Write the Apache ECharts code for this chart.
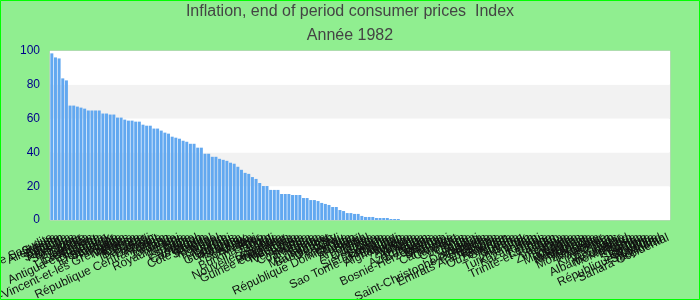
<!DOCTYPE html>
<html>
<head>
<meta charset="utf-8">
<script src="https://cdn.jsdelivr.net/npm/echarts@6/dist/echarts.min.js"></script>
<style>
html,body{margin:0;padding:0;background:#90ee90;}
#chart{width:700px;height:300px;}
</style>
</head>
<body>
<div id="chart"></div>
<script>
const titleText = "Inflation, end of period consumer prices  Index";
const subtitleText = "Année 1982";

const countries = [
  "Arabie Saoudite","Suisse","Allemagne","Japon","Autriche","Sri Lanka","Pays-Bas","Belgique","Singapour","Malte",
  "Canada","Etats-Unis","Luxembourg","Norvège","Antigua-et-Barbuda","Bulgarie","Danemark","El Salvador","Australie","Finlande",
  "Suède","Saint-Vincent-et-les Grenadines","Malaisie","France","Chypre","Barbade","Thaïlande","Fidji","Bahreïn","Koweït",
  "République Centrafricaine","Tunisie","Maroc","Jordanie","Inde","Royaume-Uni","Irlande","Italie","Espagne","Grèce",
  "Portugal","Cameroun","Gabon","Côte d'Ivoire","Sénégal","Maurice","Népal","Pakistan","Egypte","Haïti",
  "Honduras","Guatemala","Panama","Paraguay","Kenya","Botswana","Malawi","Niger","Burkina Faso","Togo",
  "Bénin","Mali","Nouvelle-Zélande","Colombie","Equateur","Philippines","Guinée équatoriale","Indonésie","Corée","Venezuela",
  "Islande","Costa Rica","Jamaïque","Nigeria","Ghana","Zambie","Madagascar","Bangladesh","Uruguay","Chili",
  "Pérou","Mexique","République Dominicaine","Soudan","Turquie","Brésil","Argentine","Israël","Bolivie","Ouganda",
  "Zaïre","Sierra Leone","Somalie","Tanzanie","Sao Tome-et-Principe","Burundi","Afghanistan","Albanie","Algérie","Andorre",
  "Angola","Arménie","Aruba","Azerbaïdjan","Bahamas","Belize","Bosnie-Herzégovine","Bélarus","Bhoutan","Brunei",
  "Cambodge","Cap-Vert","Chine","Comores","Congo","Croatie","Cuba","Djibouti","Dominique","Saint-Christophe-et-Niévès",
  "Erythrée","Estonie","Emirats Arabes Unis","Ethiopie","Géorgie","Ouzbékistan","Grenade","Guinée","Guyana","Hongrie",
  "Irak","Turkménistan","Iran","Kazakhstan","Kiribati","Laos","Lettonie","Trinité-et-Tobago","Liban","Lesotho",
  "Liberia","Zimbabwe","Libye","Lituanie","Macédoine","Maldives","Mauritanie","Micronésie","Moldavie","Mongolie",
  "Mozambique","Myanmar","Namibie","Oman","Kirghizistan","Palaos","Qatar","Roumanie","Albanie du Nord","Monténégro",
  "Russie","Rwanda","Samoa","Serbie","Slovaquie","Slovénie","République Tchèque","Swaziland","Tadjikistan","Sahara Occidental"
];

const values = [
  98.6,96.2,95.6,83.8,82.6,67.7,67.7,67.1,66.5,65.9,
  64.8,64.8,64.8,64.8,63.0,63.0,62.4,62.4,60.6,60.6,
  59.4,58.8,58.8,58.2,58.2,56.4,55.8,55.8,54.1,54.1,
  52.9,51.7,51.1,49.3,48.7,48.1,46.9,46.3,45.1,45.1,
  42.8,42.8,39.2,39.2,37.4,37.4,36.2,35.6,35.0,33.9,
  33.3,31.5,29.7,27.9,27.3,25.4,24.3,21.9,20.1,20.1,
  17.8,17.8,17.8,15.4,15.4,15.4,14.8,14.8,14.8,13.0,
  13.0,11.8,11.8,11.2,10.1,9.5,8.9,7.7,7.7,5.9,
  5.3,4.1,4.1,3.6,3.6,2.4,1.8,1.8,1.8,1.2,
  1.2,1.2,1.2,0.6,0.6,0.6
];

const yTicks = [0, 20, 40, 60, 80, 100];

const seriesData = countries.map((c, i) => (i < values.length ? values[i] : null));

const chart = echarts.init(document.getElementById('chart'), null, {renderer: 'canvas'});
chart.setOption({
  backgroundColor: '#90ee90',
  textStyle: {fontFamily: 'Liberation Sans, Arial, sans-serif'},
  title: {
    text: titleText,
    subtext: subtitleText,
    left: 'center',
    top: 4,
    padding: 0,
    itemGap: 8,
    textStyle: {fontSize: 16, fontWeight: 'normal', color: '#444', fontFamily: 'Liberation Sans'},
    subtextStyle: {fontSize: 16, color: '#444', fontFamily: 'Liberation Sans'}
  },
  graphic: [{
    type: 'rect',
    shape: {x: 0.5, y: 0.5, width: 699, height: 299},
    style: {fill: 'none', stroke: '#00ff00', lineWidth: 1},
    silent: true, z: 100
  }],
  grid: {
    left: 50, right: 30, top: 51, bottom: 80,
    containLabel: false,
    outerBoundsMode: 'none',
    show: true, backgroundColor: '#ffffff', borderColor: '#cccccc', borderWidth: 1
  },
  xAxis: {
    type: 'category',
    data: countries,
    axisTick: {show: false},
    axisLine: {show: false},
    axisLabel: {interval: 0, rotate: 25, fontSize: 12, color: '#111', margin: 17, hideOverlap: false}
  },
  yAxis: {
    type: 'value',
    min: yTicks[0], max: yTicks[yTicks.length - 1], interval: 20,
    axisLine: {show: false},
    axisTick: {show: false},
    splitLine: {show: false},
    splitArea: {show: true, areaStyle: {color: ['#ffffff', '#f2f2f2']}},
    axisLabel: {fontSize: 12, color: '#00008b', margin: 10}
  },
  series: [{
    type: 'bar',
    data: seriesData,
    barCategoryGap: '18%',
    itemStyle: {color: '#62a8f0'}
  }]
});
</script>
</body>
</html>
